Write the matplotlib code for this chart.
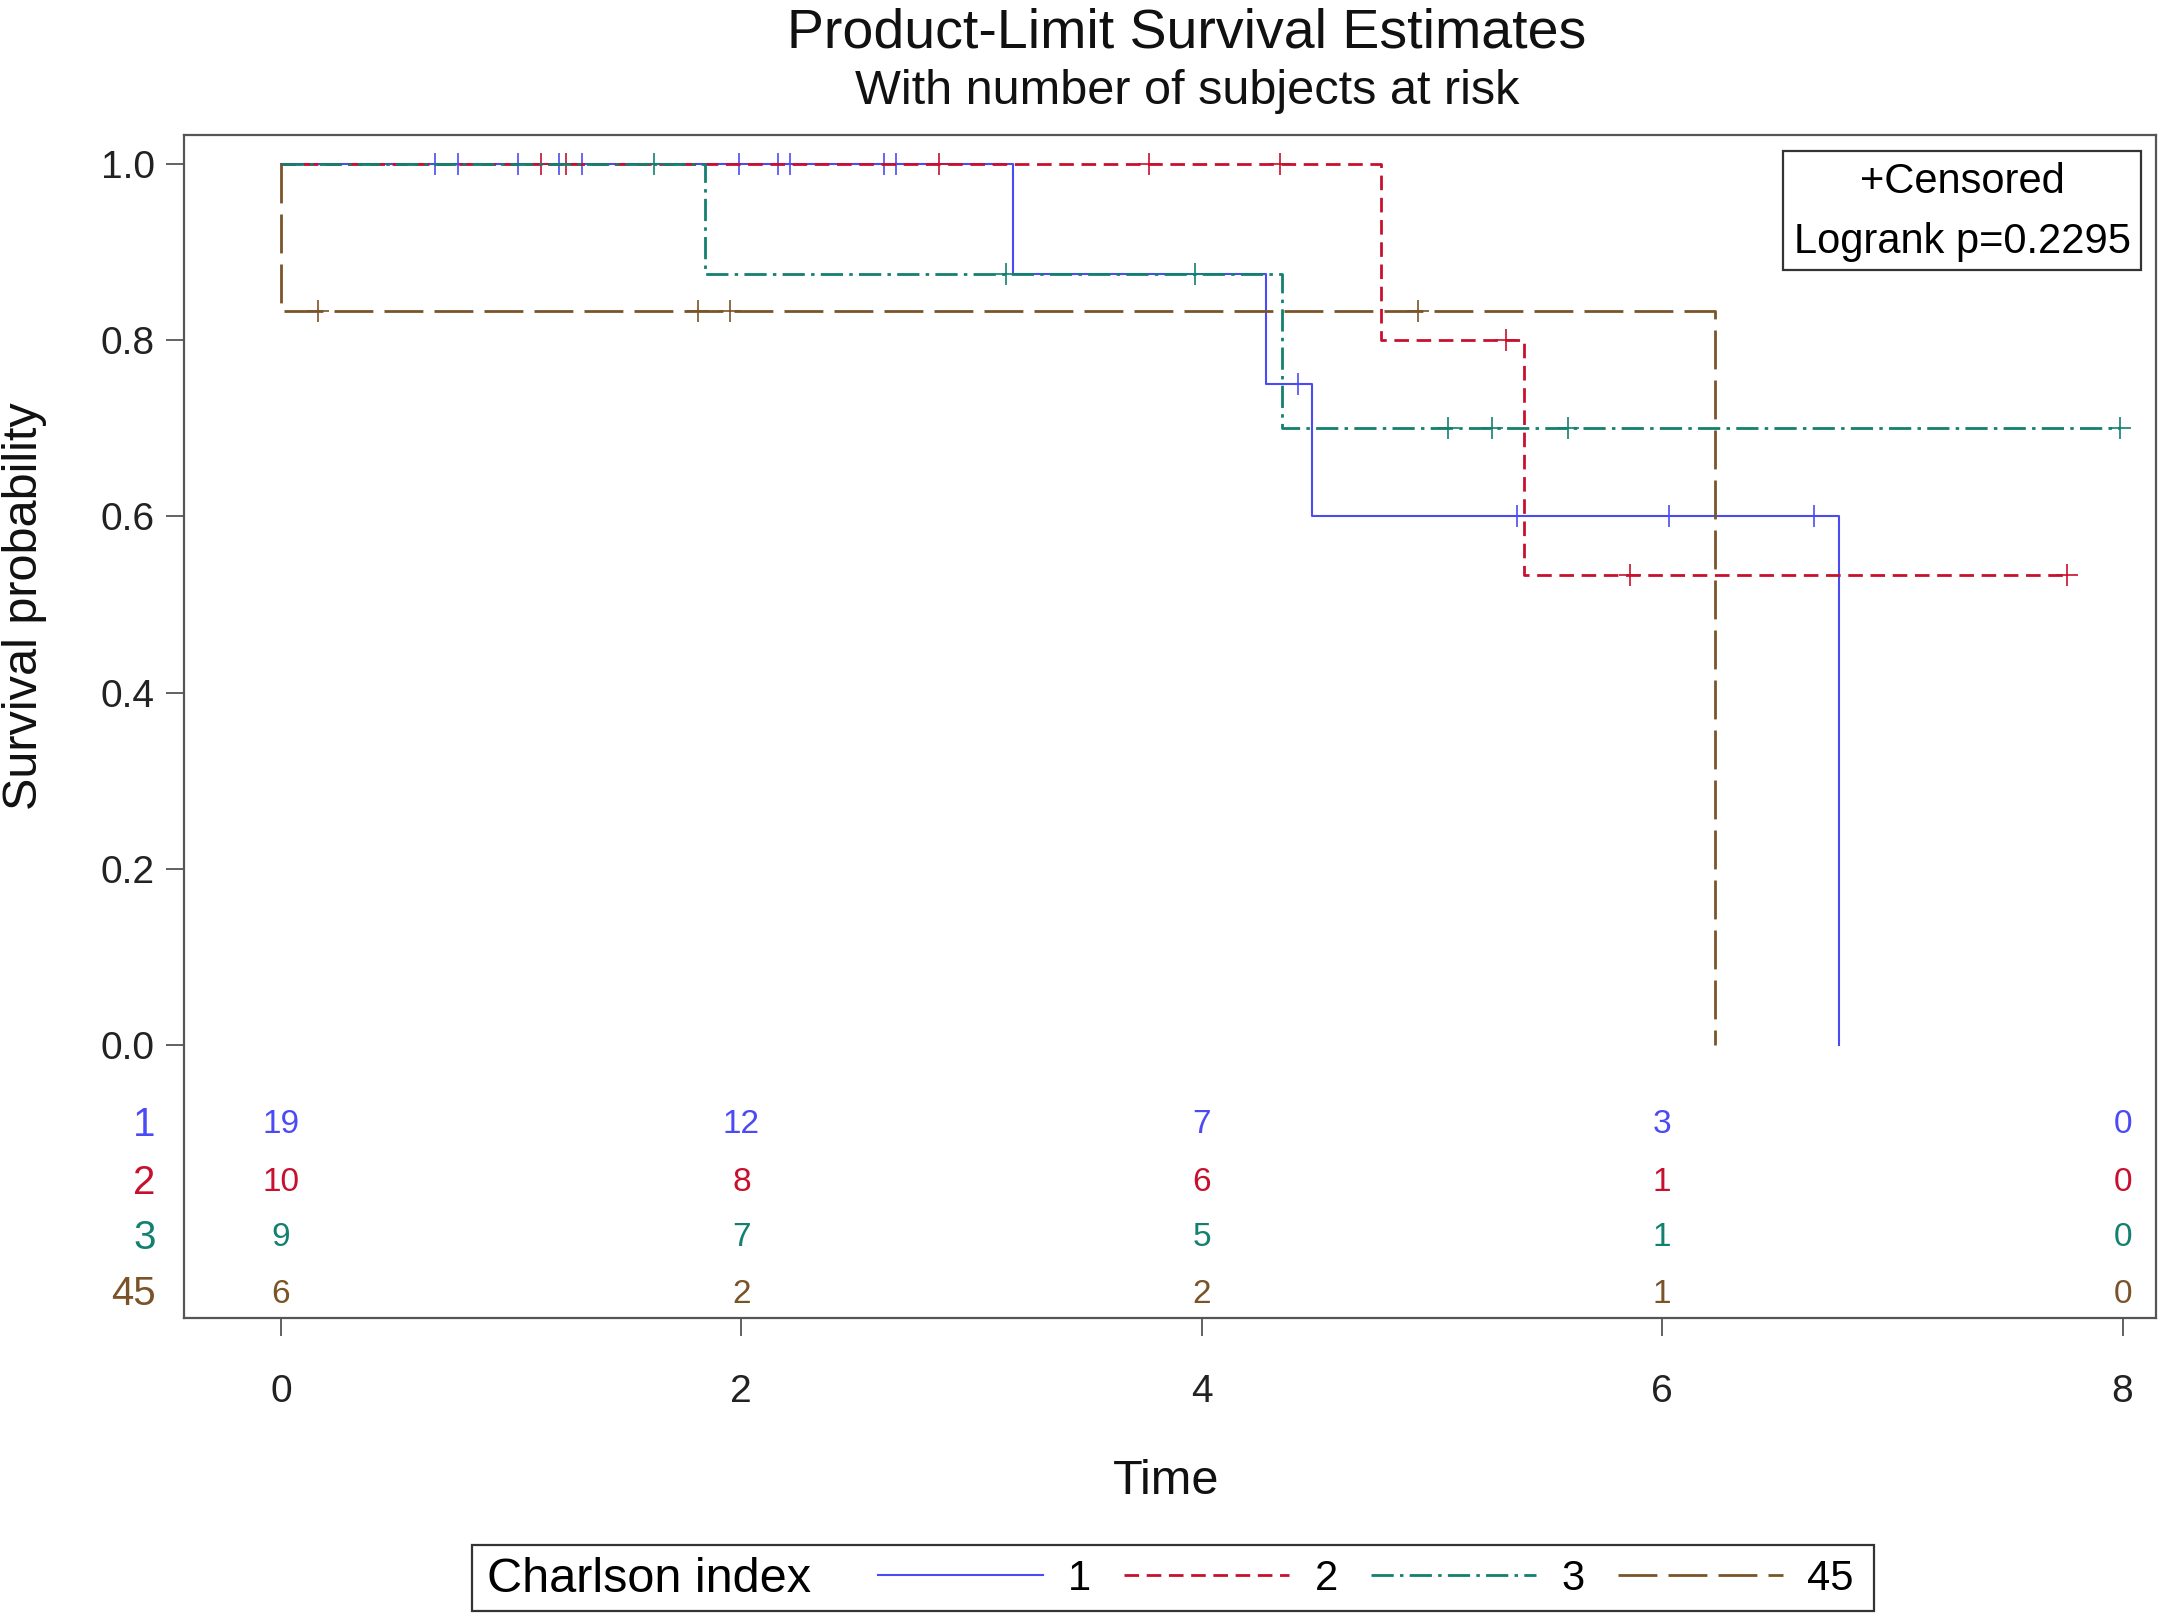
import numpy as np
import matplotlib
matplotlib.use("Agg")
import matplotlib.pyplot as plt
from matplotlib.lines import Line2D
from matplotlib.patches import Rectangle

plt.rcParams['font.family'] = ['Liberation Sans', 'DejaVu Sans']
plt.rcParams['lines.scale_dashes'] = False

# datos
grupos = ['1', '2', '3', '45']
colores = ['#4B4BF5', '#C8102E', '#138070', '#7A5428']

# tiempos de evento y supervivencia (escalon)
t_evento = {
    '1': [0, 3.18, 4.28, 4.48, 6.77],
    '2': [0, 4.78, 5.40, 7.76],
    '3': [0, 1.84, 4.35, 7.99],
    '45': [0, 0, 6.23],
}
s_evento = {
    '1': [1.0, 0.875, 0.75, 0.60, 0.0],
    '2': [1.0, 0.80, 0.533, 0.533],
    '3': [1.0, 0.875, 0.70, 0.70],
    '45': [1.0, 0.833, 0.0],
}
# tiempos censurados
t_censura = {
    '1': [0.67, 0.77, 1.03, 1.21, 1.31, 1.99, 2.16, 2.21, 2.62, 2.67,
          4.42, 5.37, 6.03, 6.66],
    '2': [1.13, 1.24, 2.86, 3.77, 4.34, 5.32, 5.86, 7.76],
    '3': [1.62, 3.15, 3.97, 5.07, 5.26, 5.59, 7.99],
    '45': [0.16, 1.81, 1.95, 4.94],
}

# numero en riesgo
t_riesgo = [0, 2, 4, 6, 8]
en_riesgo = {
    '1': [19, 12, 7, 3, 0],
    '2': [10, 8, 6, 1, 0],
    '3': [9, 7, 5, 1, 0],
    '45': [6, 2, 2, 1, 0],
}

estilos = {
    '1': dict(linestyle='-', linewidth=1.5),
    '2': dict(linestyle=(0, (10.5, 5.5)), linewidth=2.0),
    '3': dict(linestyle=(0, (16, 4.5, 2.5, 4.5)), linewidth=2.0),
    '45': dict(linestyle=(0, (28, 8)), linewidth=2.0),
}

W, H = 2159, 1613


def fx(px):
    return px / W


def fy(py):
    return 1 - py / H


fig = plt.figure(figsize=(W / 100, H / 100), dpi=100)
ax = fig.add_axes([fx(184), fy(1318), fx(2156) - fx(184), fy(135) - fy(1318)])

def valor_escalon(g, t):
    tt = np.array(t_evento[g])
    ss = np.array(s_evento[g])
    idx = np.searchsorted(tt, t, side='right') - 1
    return ss[idx]

for g, c in zip(grupos, colores):
    ax.step(t_evento[g], s_evento[g], where='post', color=c, **estilos[g])
    yc = [valor_escalon(g, t) for t in t_censura[g]]
    ax.plot(t_censura[g], yc, linestyle='none', marker='+', markersize=16,
            markeredgewidth=1.2, color=c)

# tabla de numero en riesgo
filas_y = [-0.0906, -0.1562, -0.2187, -0.2827]
for g, c, yy in zip(grupos, colores, filas_y):
    for t, n in zip(t_riesgo, en_riesgo[g]):
        ax.text(t, yy, str(n), color=c, fontsize=24, ha='center', va='center')
    ax.text(-0.545, yy, g, color=c, fontsize=29, ha='right', va='center',
            clip_on=False)

ax.set_xlim(-0.421, 8.145)
ax.set_ylim(-0.3097, 1.0328)
ax.set_xticks(t_riesgo)
ax.set_yticks([0, 0.2, 0.4, 0.6, 0.8, 1.0])
ax.set_yticklabels(['0.0', '0.2', '0.4', '0.6', '0.8', '1.0'])
ax.tick_params(axis='both', direction='out', length=13, width=1.3,
               color='#555555', labelsize=28, labelcolor='#222222')
ax.tick_params(axis='y', pad=8)
ax.tick_params(axis='x', pad=27)
for sp in ax.spines.values():
    sp.set_color('#555555')
    sp.set_linewidth(1.6)

# titulos y etiquetas
fig.text(fx(1187), fy(33), 'Product-Limit Survival Estimates', fontsize=40,
         ha='center', va='center', color='#111111')
fig.text(fx(1187), fy(91), 'With number of subjects at risk', fontsize=35,
         ha='center', va='center', color='#111111')
fig.text(fx(25), fy(606), 'Survival probability', fontsize=35, rotation=90,
         ha='center', va='center', color='#111111')
fig.text(fx(1166), fy(1482), 'Time', fontsize=35, ha='center', va='center',
         color='#111111')

# recuadro censurados / logrank
fig.add_artist(Rectangle((fx(1783), fy(270)), fx(2141) - fx(1783), fy(151) - fy(270),
                         transform=fig.transFigure, fill=False,
                         edgecolor='#333333', linewidth=1.6))
fig.text(fx(1962), fy(182), '+Censored', fontsize=30, ha='center', va='center')
fig.text(fx(1962), fy(242), 'Logrank p=0.2295', fontsize=30, ha='center', va='center')

# leyenda inferior
fig.add_artist(Rectangle((fx(472), fy(1611)), fx(1874) - fx(472), fy(1545) - fy(1611),
                         transform=fig.transFigure, fill=False,
                         edgecolor='#333333', linewidth=1.6))
fig.text(fx(487), fy(1579), 'Charlson index', fontsize=35, ha='left', va='center')
manejadores = [Line2D([], [], color=c, **estilos[g]) for g, c in zip(grupos, colores)]
fig.legend(manejadores, grupos, loc='center left',
           bbox_to_anchor=(fx(878), fy(1579)), ncol=4, frameon=False,
           fontsize=30, handlelength=3.96, handletextpad=0.6,
           columnspacing=0.8, borderpad=0, borderaxespad=0)

fig.savefig('out.png', dpi=100)
